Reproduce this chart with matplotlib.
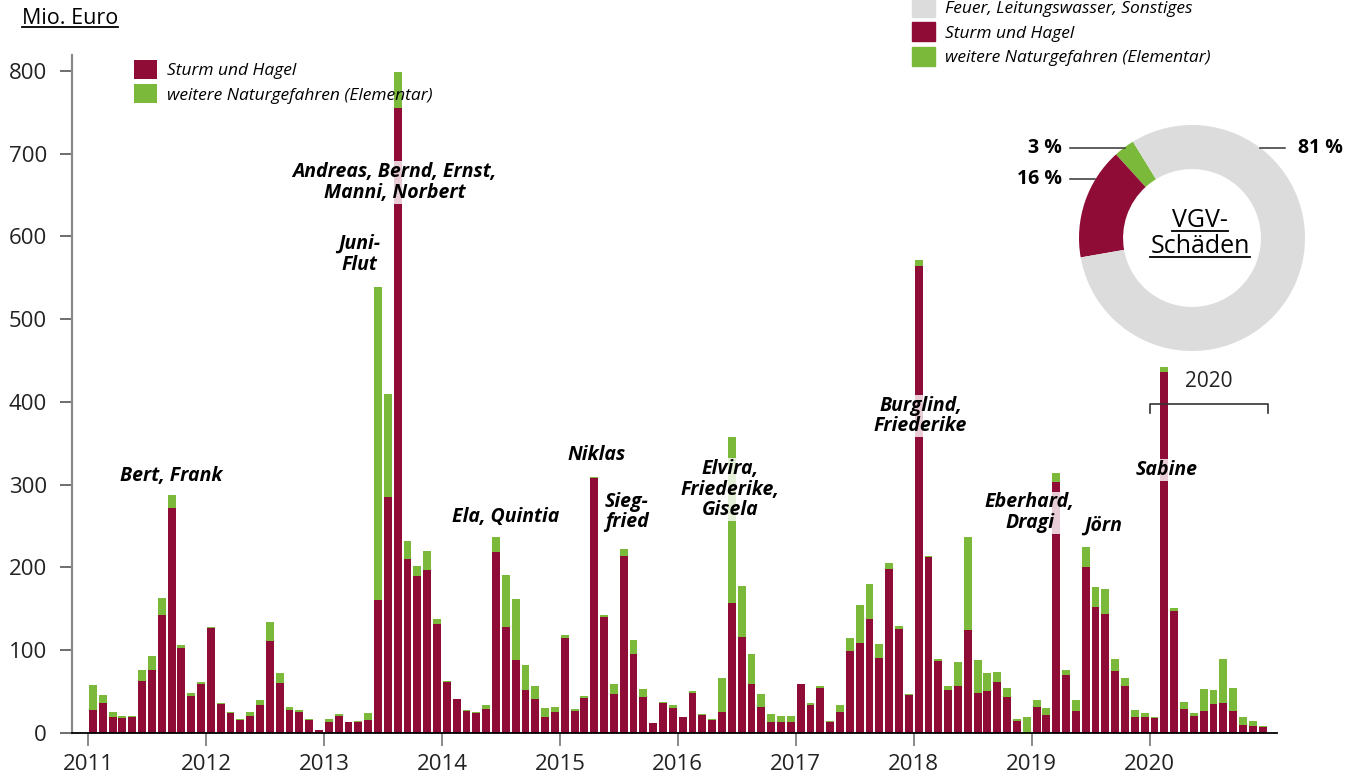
import numpy as np
import matplotlib.pyplot as plt
from matplotlib.lines import Line2D
from matplotlib.patches import Patch

plt.rcParams['font.family'] = ['Open Sans', 'DejaVu Sans']

RED = '#8e0c35'
GREEN = '#7bb93a'
GREY = '#dcdcdc'

years = ['2011', '2012', '2013', '2014', '2015', '2016', '2017', '2018', '2019', '2020']

# Mio. Euro je Monat, Sturm und Hagel
sturm = [28, 36, 19, 18, 19, 63, 76, 142, 272, 103, 45, 59,
         127, 35, 24, 16, 21, 34, 111, 60, 28, 25, 16, 4,
         13, 21, 13, 13, 16, 161, 285, 755, 210, 190, 197, 132,
         62, 41, 27, 24, 29, 219, 128, 88, 52, 41, 19, 25,
         115, 27, 42, 308, 140, 47, 214, 95, 43, 12, 36, 30,
         19, 48, 22, 16, 25, 157, 116, 59, 31, 13, 13, 13,
         59, 34, 54, 13, 25, 99, 109, 138, 91, 198, 126, 46,
         564, 213, 87, 52, 57, 124, 48, 51, 62, 44, 14, 0,
         31, 22, 303, 70, 27, 201, 152, 144, 75, 57, 19, 19,
         18, 436, 147, 29, 20, 27, 35, 36, 27, 10, 8, 7]

# weitere Naturgefahren (Elementar)
elementar = [30, 10, 6, 3, 2, 13, 17, 21, 16, 3, 3, 3,
             1, 1, 1, 1, 4, 6, 23, 13, 3, 3, 1, 0,
             4, 2, 0, 1, 8, 378, 125, 43, 22, 12, 23, 6,
             1, 0, 1, 1, 5, 18, 63, 74, 30, 16, 11, 6,
             3, 2, 3, 1, 3, 12, 8, 17, 10, 0, 1, 4,
             0, 3, 1, 1, 41, 201, 62, 36, 16, 10, 8, 8,
             0, 2, 3, 1.5, 9, 16, 46, 42, 17, 7, 3, 1,
             7, 1, 2, 5, 29, 113, 40, 22, 11.5, 10, 3, 19,
             9, 8, 11, 6, 13, 24, 24, 30, 14, 9.5, 9, 5,
             1, 6, 4, 8.5, 4, 26, 17, 53, 27, 9, 6.5, 1.5]

pie_labels = ['Feuer, Leitungswasser, Sonstiges', 'Sturm und Hagel', 'weitere Naturgefahren (Elementar)']
pie_values = [81, 16, 3]

# storm names: (text, month position, height)
storms = [('Bert, Frank', 8.5, 310),
          ('Juni-\nFlut', 27.6, 578),
          ('Andreas, Bernd, Ernst,\nManni, Norbert', 31.2, 665),
          ('Ela, Quintia', 42.5, 261),
          ('Niklas', 51.7, 336),
          ('Sieg-\nfried', 54.8, 267),
          ('Elvira,\nFriederike,\nGisela', 65.3, 294),
          ('Burglind,\nFriederike', 84.7, 383),
          ('Eberhard,\nDragi', 95.8, 266),
          ('Jörn', 103.3, 251),
          ('Sabine', 109.7, 318)]

W, H = 1360, 783
fig = plt.figure(figsize=(W / 100, H / 100), dpi=100)
ax = fig.add_axes([72 / W, 1 - 733 / H, (1277 - 72) / W, (733 - 55) / H])

x = np.arange(len(sturm)) + 0.5
b1 = ax.bar(x, sturm, width=0.8, color=RED, label='Sturm und Hagel')
b2 = ax.bar(x, elementar, width=0.8, bottom=sturm, color=GREEN,
            label='weitere Naturgefahren (Elementar)')

ax.set_xlim(-1.63, 120.96)
ax.set_ylim(0, 819)

for s in ['top', 'right']:
    ax.spines[s].set_visible(False)
ax.spines['left'].set_color('#8a8a8a')
ax.spines['left'].set_linewidth(1.6)
ax.spines['bottom'].set_color('black')
ax.spines['bottom'].set_linewidth(1.3)

ax.set_yticks(range(0, 801, 100))
ax.tick_params(axis='y', length=9, width=1.2, color='#555555', pad=9, labelsize=16, labelcolor='#222222')
ax.set_xticks(np.arange(0, 120, 12))
ax.set_xticklabels(years)
ax.tick_params(axis='x', length=9, width=1.2, color='#777777', pad=6, labelsize=16, labelcolor='#222222')

for txt, xm, ym in storms:
    ax.text(xm, ym, txt, ha='center', va='center', fontsize=14, fontweight='bold',
            fontstyle='italic', linespacing=1.05,
            bbox=dict(facecolor='white', alpha=0.8, edgecolor='none', pad=0.5))

# 2020 bracket
ax.plot([108, 108, 120, 120], [387, 397, 397, 387], color='#333333', lw=1.2, clip_on=False)
ax.text(114, 424, '2020', ha='center', va='center', fontsize=15, color='#222222')

leg = fig.legend(handles=[b1, b2], loc='upper left', bbox_to_anchor=(134 / W, 1 - 60 / H),
                 frameon=False, fontsize=12.5, handlelength=1.3, handleheight=1.3,
                 handletextpad=0.6, labelspacing=0.3, borderpad=0, borderaxespad=0,
                 prop=dict(style='italic', size=12.5))

# donut
pax = fig.add_axes([(1192 - 113) / W, 1 - (238 + 113) / H, 226 / W, 226 / H])
pax.pie(pie_values[::-1], colors=[GREEN, RED, GREY], startangle=121.5, counterclock=True,
        radius=1, wedgeprops=dict(width=0.39, edgecolor='none'))
pax.set_xlim(-1, 1)
pax.set_ylim(-1, 1)
pax.set_aspect('equal')
pax.axis('off')

handles = [Patch(color=c) for c in [GREY, RED, GREEN]]
fig.legend(handles=handles, labels=pie_labels, loc='upper left', bbox_to_anchor=(912 / W, 1 + 2 / H),
           frameon=False, handlelength=1.3, handleheight=1.3, handletextpad=0.6,
           labelspacing=0.3, borderpad=0, borderaxespad=0, prop=dict(style='italic', size=12.5))

def fline(x0, x1, y):
    fig.add_artist(Line2D([x0 / W, x1 / W], [1 - y / H, 1 - y / H], color='#333333', lw=1.1,
                          transform=fig.transFigure))

fig.text(1062 / W, 1 - 148 / H, f'{pie_values[2]} %', ha='right', va='center', fontsize=14, fontweight='bold')
fig.text(1062 / W, 1 - 179 / H, f'{pie_values[1]} %', ha='right', va='center', fontsize=14, fontweight='bold')
fig.text(1298 / W, 1 - 148 / H, f'{pie_values[0]} %', ha='left', va='center', fontsize=14, fontweight='bold')
fline(1070, 1125, 148)
fline(1070, 1095, 179)
fline(1260, 1285, 148)

t_mio = fig.text(22 / W, 1 - 18 / H, 'Mio. Euro', ha='left', va='center', fontsize=15.5)
t_v1 = fig.text(1200 / W, 1 - 220 / H, 'VGV-', ha='center', va='center', fontsize=18)
t_v2 = fig.text(1200 / W, 1 - 247 / H, 'Schäden', ha='center', va='center', fontsize=18)

fig.canvas.draw()
r = fig.canvas.get_renderer()
for t in [t_mio, t_v1, t_v2]:
    bb = t.get_window_extent(r)
    yy = bb.y0 + 2
    fig.add_artist(Line2D([bb.x0 / W, bb.x1 / W], [yy / H, yy / H], color='black', lw=1.3,
                          transform=fig.transFigure))

fig.savefig('out.png', dpi=100)
